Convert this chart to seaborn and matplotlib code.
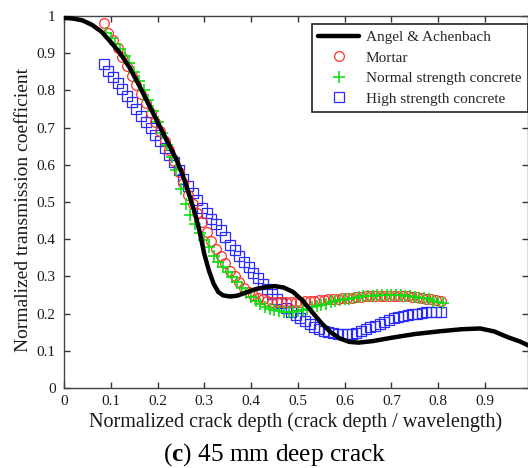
import matplotlib
matplotlib.use("Agg")
import matplotlib.pyplot as plt
import seaborn as sns
import pandas as pd

# ---------------- data ----------------
angel_x = [0.0, 0.02, 0.04, 0.06, 0.08, 0.10, 0.12, 0.14, 0.16, 0.18, 0.20, 0.22, 0.24, 0.25,
           0.26, 0.27, 0.28, 0.29, 0.30, 0.31, 0.32, 0.33, 0.34, 0.355, 0.37, 0.39, 0.41, 0.43,
           0.45, 0.47, 0.49, 0.51, 0.53, 0.55, 0.57, 0.59, 0.61, 0.63, 0.66, 0.70, 0.75, 0.80,
           0.85, 0.89, 0.92, 0.95, 0.975, 1.0]
angel_y = [0.995, 0.993, 0.988, 0.976, 0.958, 0.930, 0.900, 0.862, 0.815, 0.765, 0.715, 0.665,
           0.615, 0.585, 0.550, 0.510, 0.470, 0.420, 0.360, 0.315, 0.280, 0.258, 0.249, 0.246,
           0.248, 0.257, 0.266, 0.271, 0.274, 0.270, 0.258, 0.235, 0.205, 0.175, 0.150, 0.133,
           0.124, 0.122, 0.126, 0.135, 0.145, 0.152, 0.158, 0.160, 0.152, 0.136, 0.125, 0.110]

mortar_x = [0.085, 0.095, 0.105, 0.115, 0.125, 0.135, 0.145, 0.155, 0.165, 0.175, 0.185, 0.195,
            0.205, 0.215, 0.225, 0.235, 0.245, 0.255, 0.265, 0.275, 0.285, 0.295, 0.305, 0.315,
            0.325, 0.335, 0.345, 0.355, 0.365, 0.375, 0.385, 0.395, 0.405, 0.415, 0.425, 0.435,
            0.445, 0.455, 0.465, 0.475, 0.485, 0.495, 0.505, 0.515, 0.525, 0.535, 0.545, 0.555,
            0.565, 0.575, 0.585, 0.595, 0.605, 0.615, 0.625, 0.635, 0.645, 0.655, 0.665, 0.675,
            0.685, 0.695, 0.705, 0.715, 0.725, 0.735, 0.745, 0.755, 0.765, 0.775, 0.785, 0.795,
            0.805]
mortar_y = [0.980, 0.955, 0.935, 0.915, 0.890, 0.865, 0.840, 0.815, 0.790, 0.765, 0.740, 0.715,
            0.690, 0.665, 0.640, 0.610, 0.580, 0.550, 0.520, 0.495, 0.470, 0.445, 0.420, 0.395,
            0.375, 0.355, 0.335, 0.315, 0.300, 0.285, 0.270, 0.258, 0.250, 0.243, 0.238, 0.235,
            0.232, 0.231, 0.230, 0.230, 0.230, 0.231, 0.232, 0.233, 0.234, 0.235, 0.236, 0.237,
            0.238, 0.239, 0.240, 0.241, 0.242, 0.243, 0.244, 0.245, 0.246, 0.247, 0.247, 0.248,
            0.248, 0.248, 0.248, 0.247, 0.247, 0.246, 0.245, 0.244, 0.242, 0.240, 0.238, 0.236,
            0.233]

normal_x = [0.09, 0.10, 0.11, 0.12, 0.13, 0.14, 0.15, 0.16, 0.17, 0.18, 0.19, 0.20, 0.21, 0.22,
            0.23, 0.24, 0.25, 0.26, 0.27, 0.28, 0.29, 0.30, 0.31, 0.32, 0.33, 0.34, 0.35, 0.36,
            0.37, 0.38, 0.39, 0.40, 0.41, 0.42, 0.43, 0.44, 0.45, 0.46, 0.47, 0.48, 0.49, 0.50,
            0.51, 0.52, 0.53, 0.54, 0.55, 0.56, 0.57, 0.58, 0.59, 0.60, 0.61, 0.62, 0.63, 0.64,
            0.65, 0.66, 0.67, 0.68, 0.69, 0.70, 0.71, 0.72, 0.73, 0.74, 0.75, 0.76, 0.77, 0.78,
            0.79, 0.80, 0.81]
normal_y = [0.955, 0.940, 0.925, 0.910, 0.893, 0.873, 0.850, 0.825, 0.800, 0.773, 0.745, 0.715,
            0.685, 0.652, 0.620, 0.585, 0.535, 0.495, 0.465, 0.440, 0.418, 0.398, 0.378, 0.355,
            0.338, 0.325, 0.312, 0.298, 0.284, 0.270, 0.256, 0.244, 0.234, 0.225, 0.219, 0.213,
            0.209, 0.206, 0.204, 0.204, 0.205, 0.207, 0.210, 0.213, 0.217, 0.220, 0.224, 0.227,
            0.230, 0.233, 0.236, 0.238, 0.240, 0.242, 0.244, 0.246, 0.247, 0.248, 0.249, 0.250,
            0.250, 0.250, 0.250, 0.249, 0.248, 0.247, 0.245, 0.243, 0.241, 0.238, 0.235, 0.232,
            0.228]

high_x = mortar_x
high_y = [0.870, 0.853, 0.837, 0.820, 0.803, 0.786, 0.768, 0.750, 0.732, 0.715, 0.698, 0.681,
          0.664, 0.646, 0.627, 0.607, 0.585, 0.562, 0.542, 0.525, 0.505, 0.485, 0.470, 0.455,
          0.440, 0.425, 0.405, 0.385, 0.370, 0.355, 0.340, 0.325, 0.310, 0.295, 0.280, 0.265,
          0.252, 0.240, 0.228, 0.216, 0.205, 0.196, 0.188, 0.180, 0.172, 0.165, 0.159, 0.154,
          0.150, 0.147, 0.145, 0.144, 0.144, 0.146, 0.149, 0.153, 0.158, 0.163, 0.168, 0.173,
          0.178, 0.183, 0.187, 0.190, 0.193, 0.196, 0.198, 0.200, 0.202, 0.203, 0.204, 0.205,
          0.205]

tick_vals = [0, 0.1, 0.2, 0.3, 0.4, 0.5, 0.6, 0.7, 0.8, 0.9]
xtick_labels = ["0", "0.1", "0.2", "0.3", "0.4", "0.5", "0.6", "0.7", "0.8", "0.9"]
ytick_vals = [0, 0.1, 0.2, 0.3, 0.4, 0.5, 0.6, 0.7, 0.8, 0.9, 1.0]
ytick_labels = ["0", "0.1", "0.2", "0.3", "0.4", "0.5", "0.6", "0.7", "0.8", "0.9", "1"]

series_names = ["Angel & Achenbach", "Mortar", "Normal strength concrete", "High strength concrete"]

# ---------------- style ----------------
sns.set_style("ticks")
plt.rcParams["font.family"] = ["Liberation Serif", "DejaVu Serif"]
plt.rcParams["mathtext.fontset"] = "custom"
plt.rcParams["mathtext.rm"] = "Liberation Serif"
plt.rcParams["mathtext.bf"] = "Liberation Serif:bold"

txt = "#1a1a1a"
fig = plt.figure(figsize=(5.28, 4.68), dpi=100)
ax = fig.add_axes([64 / 528, 80 / 468, 463.5 / 528, 372 / 468])

df_a = pd.DataFrame({"x": angel_x, "y": angel_y})
df_m = pd.DataFrame({"x": mortar_x, "y": mortar_y})
df_n = pd.DataFrame({"x": normal_x, "y": normal_y})
df_h = pd.DataFrame({"x": high_x, "y": high_y})

sns.lineplot(data=df_m, x="x", y="y", ax=ax, sort=False, estimator=None, linestyle="",
             marker="o", markersize=7, markerfacecolor="none", markeredgecolor="#ff3030",
             markeredgewidth=0.9, color="#ff3030", label=series_names[1], zorder=3)
sns.lineplot(data=df_n, x="x", y="y", ax=ax, sort=False, estimator=None, linestyle="",
             marker="+", markersize=8, markeredgecolor="#10dd10",
             markeredgewidth=1.2, color="#10dd10", label=series_names[2], zorder=4)
sns.lineplot(data=df_h, x="x", y="y", ax=ax, sort=False, estimator=None, linestyle="",
             marker="s", markersize=7, markerfacecolor="none", markeredgecolor="#2a2aff",
             markeredgewidth=0.9, color="#2a2aff", label=series_names[3], zorder=2)
sns.lineplot(data=df_a, x="x", y="y", ax=ax, sort=False, estimator=None,
             color="black", linewidth=3.2, label=series_names[0], zorder=5)

ax.set_xlim(0, 0.991)
ax.set_ylim(0, 1.0)
ax.set_xticks(tick_vals)
ax.set_xticklabels(xtick_labels)
ax.set_yticks(ytick_vals)
ax.set_yticklabels(ytick_labels)
ax.tick_params(direction="in", length=4, width=1, top=True, right=True,
               labelsize=11, colors="#333333", labelcolor=txt)
ax.tick_params(axis="x", pad=5)
ax.tick_params(axis="y", pad=6)
for s in ax.spines.values():
    s.set_color("#444444")
    s.set_linewidth(1.0)
    s.set_visible(True)

ax.set_xlabel("Normalized crack depth (crack depth / wavelength)", fontsize=14.5, color=txt)
ax.set_ylabel("Normalized transmission coefficient", fontsize=14, color=txt)
ax.xaxis.set_label_coords(0.5, -0.066)
ax.yaxis.set_label_coords(-0.068, 0.48)

handles, labels = ax.get_legend_handles_labels()
order = [labels.index(n) for n in series_names]
leg = ax.legend([handles[i] for i in order], [labels[i] for i in order],
                loc="upper right", bbox_to_anchor=(1.0, 1 - 8 / 372), borderaxespad=0,
                fontsize=11, frameon=True, fancybox=False, framealpha=1, edgecolor="#222222",
                handlelength=2.7, handletextpad=0.4, labelspacing=0.45, borderpad=0.42)
leg.get_frame().set_linewidth(1.2)

fig.text(275 / 528, 1 - 455 / 468, r"($\mathbf{c}$) 45 mm deep crack", ha="center", va="center",
         fontsize=18.3, color="black")

fig.savefig("out.png", dpi=100)
